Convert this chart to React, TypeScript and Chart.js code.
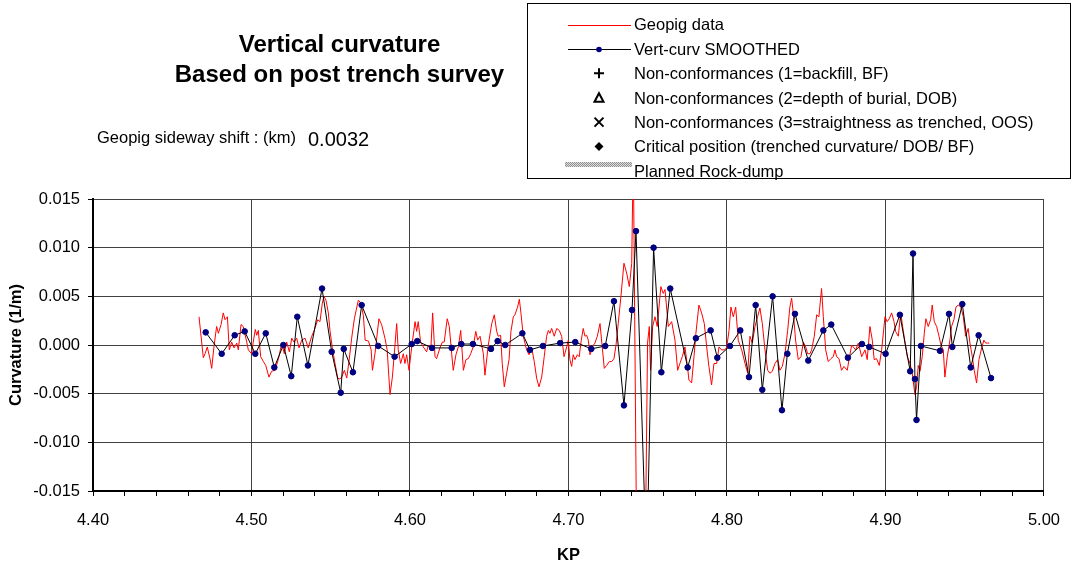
import React, { useEffect, useRef } from "react";
import { Chart, registerables } from "chart.js";

Chart.register(...registerables);

const FONT = '"Liberation Sans", Arial, Helvetica, sans-serif';

const titleLines = ["Vertical curvature", "Based on post trench survey"];
const shiftLabel = "Geopig sideway shift : (km)";
const shiftValue = "0.0032";
const xTitle = "KP";
const yTitle = "Curvature (1/m)";

const legendLabels = [
  "Geopig data",
  "Vert-curv SMOOTHED",
  "Non-conformances (1=backfill, BF)",
  "Non-conformances (2=depth of burial, DOB)",
  "Non-conformances (3=straightness as trenched, OOS)",
  "Critical position (trenched curvature/ DOB/ BF)",
  "Planned Rock-dump",
];

const xMin = 4.4;
const xMax = 5.0;
const xMinorStep = 0.02;
const yTickValues = [-0.015, -0.01, -0.005, 0, 0.005, 0.01, 0.015];

const geoKP = [
  4.4669, 4.4696, 4.4707, 4.4721, 4.4738, 4.4749, 4.4763, 4.478, 4.4791, 4.4808,
  4.4822, 4.4833, 4.4848, 4.486, 4.4875, 4.489, 4.4907, 4.4917, 4.4934, 4.4948,
  4.497, 4.498, 4.5001, 4.5011, 4.5024, 4.5033, 4.5043, 4.5058, 4.5075, 4.509,
  4.511, 4.5127, 4.5148, 4.5169, 4.5191, 4.5207, 4.5222, 4.5239, 4.5254, 4.5268,
  4.5285, 4.53, 4.5317, 4.5338, 4.5358, 4.538, 4.5396, 4.5418, 4.5432, 4.5447,
  4.5457, 4.547, 4.5485, 4.5495, 4.551, 4.5527, 4.5544, 4.5558, 4.5569, 4.5586,
  4.5601, 4.5615, 4.5632, 4.5649, 4.5674, 4.5691, 4.5706, 4.5717, 4.5738, 4.5755,
  4.5763, 4.5779, 4.5804, 4.5821, 4.5842, 4.5856, 4.5874, 4.5889, 4.5901, 4.5916,
  4.5926, 4.5941, 4.5958, 4.5968, 4.5979, 4.5994, 4.6011, 4.6032, 4.6042, 4.6052,
  4.6067, 4.6084, 4.6105, 4.6116, 4.6132, 4.6143, 4.6158, 4.6168, 4.6189, 4.6204,
  4.6216, 4.6235, 4.6248, 4.6263, 4.6273, 4.629, 4.6305, 4.632, 4.6337, 4.6353,
  4.6368, 4.6383, 4.6399, 4.6415, 4.6427, 4.6442, 4.6452, 4.6463, 4.6473, 4.6494,
  4.6516, 4.6532, 4.6547, 4.6557, 4.6572, 4.6582, 4.6595, 4.661, 4.6625, 4.6637,
  4.6652, 4.6662, 4.6679, 4.669, 4.67, 4.6715, 4.6736, 4.6751, 4.6768, 4.6784,
  4.6799, 4.6814, 4.6831, 4.6847, 4.6862, 4.6873, 4.6883, 4.6894, 4.691, 4.6926,
  4.6942, 4.6957, 4.6972, 4.6989, 4.6999, 4.7009, 4.702, 4.703, 4.7041, 4.7056,
  4.7068, 4.7079, 4.7093, 4.7104, 4.7115, 4.7125, 4.7136, 4.715, 4.7167, 4.7182,
  4.7199, 4.7213, 4.7226, 4.7241, 4.7258, 4.7273, 4.7287, 4.73, 4.7314, 4.7331,
  4.735, 4.7367, 4.7384, 4.7399, 4.7409, 4.7435, 4.7457, 4.7479, 4.7499, 4.751,
  4.7518, 4.7531, 4.7546, 4.756, 4.7583, 4.7598, 4.7609, 4.763, 4.7651, 4.7672,
  4.7689, 4.7703, 4.7718, 4.7735, 4.775, 4.776, 4.7777, 4.7792, 4.7804, 4.7823,
  4.784, 4.7857, 4.7872, 4.7886, 4.7903, 4.7918, 4.7935, 4.795, 4.7966, 4.7983,
  4.7998, 4.8013, 4.8025, 4.804, 4.8055, 4.8071, 4.8093, 4.8114, 4.8131, 4.8145,
  4.816, 4.8177, 4.8193, 4.8208, 4.8223, 4.824, 4.8257, 4.8271, 4.8286, 4.8303,
  4.832, 4.8334, 4.8349, 4.8366, 4.8383, 4.8397, 4.8408, 4.8421, 4.8433, 4.845,
  4.8467, 4.8482, 4.8497, 4.8509, 4.8524, 4.8534, 4.8551, 4.8566, 4.858, 4.8597,
  4.8608, 4.8623, 4.8639, 4.8656, 4.8671, 4.8681, 4.8692, 4.8707, 4.8723, 4.8738,
  4.8759, 4.877, 4.8787, 4.8797, 4.8812, 4.8829, 4.885, 4.8871, 4.8885, 4.8902,
  4.8917, 4.8929, 4.8944, 4.8961, 4.8976, 4.8997, 4.9011, 4.9024, 4.9039, 4.9054,
  4.9064, 4.9081, 4.9096, 4.9112, 4.9123, 4.9138, 4.9155, 4.9169, 4.9186, 4.9196,
  4.9207, 4.9218, 4.9232, 4.9245, 4.9255, 4.927, 4.9285, 4.9295, 4.9308, 4.9323,
  4.9338, 4.935, 4.9365, 4.9375, 4.939, 4.9407, 4.9417, 4.9432, 4.9445, 4.9459,
  4.9476, 4.9491, 4.9506, 4.9522, 4.9533, 4.9548, 4.956, 4.9575, 4.959, 4.9607,
  4.9621, 4.9632, 4.9645, 4.9655,
];

const geoVal = [
  0.0029, -0.0013, -0.0009, -0.0002, -0.0014, -0.0024, -0.0002, 0.0019, 0.0012, 0.0021,
  0.0033, 0.0026, 0.0029, -0.0005, 0.0003, -0.0003, 0.0002, -0.0005, 0.0021, 0.0019,
  0.0003, -0.0005, -0.0009, 0.0003, 0.0016, 0.001, 0.0015, -0.0012, -0.0017, -0.0021,
  -0.0033, -0.0027, -0.0026, -0.0015, 0.0002, -0.0009, 0.0003, -0.0007, 0.0007, 0.0003,
  0.0007, -0.0003, 0.0005, 0.0007, -0.0003, 0.0009, 0.0015, 0.0026, 0.0024, 0.0043,
  0.005, 0.0046, 0.0033, 0.0015, -0.0003, -0.0019, -0.0034, -0.0035, -0.0033, -0.0026,
  -0.0034, -0.0017, 0.0007, 0.0027, 0.0046, 0.0043, 0.003, 0.0005, 0.0004, -0.0005,
  -0.0026, -0.0009, 0.0027, 0.0021, 0.0007, -0.0005, -0.0051, -0.0033, -0.0009, 0.0022,
  -0.0005, -0.0019, -0.0009, -0.0019, -0.001, -0.0026, -0.0002, 0.0024, 0.0014, 0.0024,
  0.0003, -0.0002, -0.0007, 0.0, -0.0003, 0.0033, -0.0012, -0.0014, -0.0003, 0.0003,
  0.0003, 0.0027, 0.0019, -0.0009, -0.0026, -0.001, -0.0002, 0.0015, -0.0026, -0.0015,
  -0.0014, -0.0009, -0.0002, 0.0014, 0.0005, 0.0009, 0.0, -0.0009, -0.0031, 0.0,
  0.0022, 0.0031, 0.0014, 0.0009, 0.001, -0.0019, -0.0043, -0.0029, -0.0015, 0.0014,
  0.0029, 0.0031, 0.0039, 0.0047, 0.0033, 0.0009, -0.0005, -0.001, -0.0003, -0.0017,
  -0.0034, -0.0043, -0.0033, -0.0012, 0.0009, 0.0015, 0.0012, 0.0017, 0.0009, 0.0017,
  0.0015, 0.0009, -0.0012, -0.0002, 0.0005, -0.0015, -0.0022, -0.001, -0.0015, -0.001,
  -0.0012, 0.0003, 0.0017, 0.0009, 0.001, 0.0005, -0.001, -0.0002, 0.0002, 0.0009,
  0.0022, -0.0002, -0.0024, -0.0021, -0.0017, -0.0017, -0.0014, 0.0, 0.0022, 0.005,
  0.0084, 0.0074, 0.006, 0.0084, 0.02, -0.03, -0.018, -0.03, 0.0002, 0.0019,
  -0.0026, 0.0019, 0.0029, 0.0019, 0.006, 0.0053, 0.0057, 0.0019, 0.0024, 0.0005,
  -0.0026, -0.0019, -0.0012, -0.0002, -0.0021, -0.0036, -0.0039, -0.0012, 0.0012, 0.0041,
  0.0033, 0.0022, -0.0002, -0.0022, -0.0041, -0.0019, -0.0019, -0.0002, -0.0005, -0.0005,
  -0.0003, 0.0015, 0.0039, 0.0029, 0.0039, 0.0005, -0.0005, -0.0019, -0.0029, 0.0009,
  0.0002, 0.0019, 0.0029, 0.0038, 0.0022, -0.0005, -0.0026, -0.0029, -0.0027, -0.0019,
  -0.0015, -0.0026, -0.0022, -0.0009, 0.0015, 0.0039, 0.0048, 0.0029, 0.0005, -0.0015,
  -0.0012, 0.0003, -0.0002, -0.0009, -0.0009, -0.0005, 0.0009, 0.0031, 0.0029, 0.0058,
  0.0029, -0.0005, -0.0017, -0.0014, -0.0012, -0.0005, -0.0012, -0.0014, -0.0026, -0.0022,
  -0.0026, -0.0015, 0.0, -0.0002, -0.0005, 0.0002, -0.0012, -0.0005, -0.0015, 0.0019,
  0.0005, -0.0015, -0.0014, -0.0021, -0.0005, 0.0029, 0.0024, 0.0027, 0.0033, 0.0024,
  0.0014, 0.0009, 0.0033, 0.0015, 0.0003, -0.0012, -0.0019, -0.0029, -0.0051, -0.0043,
  -0.0021, -0.0027, -0.0012, 0.0012, 0.0027, 0.0019, 0.0026, 0.0041, 0.0024, 0.0019,
  0.0009, 0.0, -0.0005, -0.0033, -0.0012, 0.0005, 0.0019, 0.0026, 0.0039, 0.0041,
  0.0039, 0.0029, 0.0009, 0.0017, 0.0002, -0.0012, -0.0026, -0.0039, -0.0015, -0.0003,
  0.0005, 0.0002, 0.0002, 0.0002,
];

const smoothKP = [
  4.4711, 4.4812, 4.4894, 4.4957, 4.5024, 4.509, 4.5144, 4.5201, 4.5251, 4.5289,
  4.5356, 4.5445, 4.5506, 4.5563, 4.5582, 4.564, 4.5695, 4.58, 4.5903, 4.6011,
  4.6046, 4.6139, 4.6263, 4.6324, 4.6397, 4.6511, 4.6553, 4.6601, 4.6709, 4.6757,
  4.6839, 4.6948, 4.7043, 4.7144, 4.7232, 4.7287, 4.735, 4.7401, 4.7426, 4.7493,
  4.7537, 4.7586, 4.7642, 4.7752, 4.7804, 4.7897, 4.7939, 4.8019, 4.8084, 4.8139,
  4.8181, 4.8223, 4.8288, 4.8347, 4.8381, 4.8429, 4.8513, 4.8608, 4.8658, 4.8763,
  4.8852, 4.8898, 4.9001, 4.9091, 4.9156, 4.9174, 4.9186, 4.9196, 4.9224, 4.9344,
  4.9401, 4.9422, 4.9485, 4.9538, 4.9588, 4.9666,
];

const smoothVal = [
  0.0013, -0.0009, 0.001, 0.0014, -0.0009, 0.0012, -0.0023, 0.0, -0.0032, 0.0029,
  -0.0021, 0.0058, -0.0007, -0.0049, -0.0004, -0.0028, 0.0041, -0.0001, -0.0012, 0.0001,
  0.0004, -0.0003, -0.0003, 0.0001, 0.0001, -0.0004, 0.0004, 0.0, 0.0012, -0.0005,
  -0.0001, 0.0002, 0.0003, -0.0004, -0.0001, 0.0045, -0.0062, 0.0036, 0.0117, -0.0227,
  0.01, -0.0028, 0.0058, -0.0023, 0.0007, 0.0015, -0.0013, -0.0001, 0.0015, -0.0033,
  0.0041, -0.0046, 0.005, -0.0067, -0.0009, 0.0032, -0.0016, 0.0015, 0.0021, -0.0013,
  0.0001, -0.0002, -0.0009, 0.0031, -0.0027, 0.0094, -0.0035, -0.0077, -0.0001, -0.0006,
  0.0032, -0.0002, 0.0042, -0.0023, 0.001, -0.0034,
];

const legendSymbols = ["line", "lineMarker", "cross", "triangle", "crossRot", "diamond", "pattern"];
const RED = "#ff0000";
const NAVY = "#000080";

const isMajor = (v: number) => Math.abs(v * 10 - Math.round(v * 10)) < 1e-6;

const decorPlugin = {
  id: "decor",
  afterDraw(chart: any) {
    const ctx: CanvasRenderingContext2D = chart.ctx;
    ctx.save();
    ctx.fillStyle = "#000";
    ctx.textBaseline = "alphabetic";
    ctx.textAlign = "center";
    ctx.font = `bold 24px ${FONT}`;
    ctx.fillText(titleLines[0], 339.5, 51.5);
    ctx.fillText(titleLines[1], 339.5, 81.5);

    ctx.textAlign = "left";
    ctx.font = `16.5px ${FONT}`;
    ctx.fillText(shiftLabel, 97, 142.5);
    ctx.font = `20px ${FONT}`;
    ctx.fillText(shiftValue, 308, 146);

    // legend box
    ctx.strokeStyle = "#000";
    ctx.lineWidth = 1;
    ctx.strokeRect(527.5, 3.5, 543, 175);

    const datasets = chart.data.datasets;
    const sx = 599;
    datasets.forEach((d: any, i: number) => {
      const y = 24.5 + i * 24.4;
      const ry = Math.round(y);
      const sym = d.legendSymbol;
      ctx.save();
      if (sym === "line" || sym === "lineMarker") {
        ctx.fillStyle = sym === "line" ? RED : "#000";
        ctx.fillRect(568, ry, 63, 1);
        if (sym === "lineMarker") {
          ctx.fillStyle = NAVY;
          ctx.beginPath();
          ctx.arc(sx, ry + 0.5, 2.8, 0, Math.PI * 2);
          ctx.fill();
        }
      } else if (sym === "cross") {
        ctx.strokeStyle = "#000";
        ctx.lineWidth = 2;
        ctx.beginPath();
        ctx.moveTo(sx - 5, y);
        ctx.lineTo(sx + 5, y);
        ctx.moveTo(sx, y - 5);
        ctx.lineTo(sx, y + 5);
        ctx.stroke();
      } else if (sym === "triangle") {
        ctx.strokeStyle = "#000";
        ctx.lineWidth = 2;
        ctx.beginPath();
        ctx.moveTo(sx, y - 4.5);
        ctx.lineTo(sx + 4.5, y + 4);
        ctx.lineTo(sx - 4.5, y + 4);
        ctx.closePath();
        ctx.stroke();
      } else if (sym === "crossRot") {
        ctx.strokeStyle = "#000";
        ctx.lineWidth = 2;
        ctx.beginPath();
        ctx.moveTo(sx - 4.5, y - 4.5);
        ctx.lineTo(sx + 4.5, y + 4.5);
        ctx.moveTo(sx + 4.5, y - 4.5);
        ctx.lineTo(sx - 4.5, y + 4.5);
        ctx.stroke();
      } else if (sym === "diamond") {
        ctx.fillStyle = "#000";
        ctx.beginPath();
        ctx.moveTo(sx, y - 4.5);
        ctx.lineTo(sx + 4.5, y);
        ctx.lineTo(sx, y + 4.5);
        ctx.lineTo(sx - 4.5, y);
        ctx.closePath();
        ctx.fill();
      } else if (sym === "pattern") {
        const pc = document.createElement("canvas");
        pc.width = 2;
        pc.height = 2;
        const p = pc.getContext("2d")!;
        p.fillStyle = "#e0e0e0";
        p.fillRect(0, 0, 2, 2);
        p.fillStyle = "#8c8c8c";
        p.fillRect(0, 0, 1, 1);
        p.fillRect(1, 1, 1, 1);
        const pat = ctx.createPattern(pc, "repeat");
        if (pat) ctx.fillStyle = pat;
        ctx.fillRect(565, ry - 9, 67, 5);
      }
      ctx.restore();
      ctx.fillStyle = "#000";
      ctx.font = `16.5px ${FONT}`;
      ctx.textAlign = "left";
      ctx.textBaseline = "alphabetic";
      ctx.fillText(d.label, 634, y + 5.8);
    });
    ctx.restore();
  },
};

export default function App() {
  const canvasRef = useRef<HTMLCanvasElement | null>(null);

  useEffect(() => {
    const canvas = canvasRef.current;
    if (!canvas) return;
    const geoData = geoKP.map((x, i) => ({ x, y: geoVal[i] }));
    const smoothData = smoothKP.map((x, i) => ({ x, y: smoothVal[i] }));

    const chart = new Chart(canvas, {
      type: "line",
      data: {
        datasets: [
          {
            label: legendLabels[0],
            legendSymbol: legendSymbols[0],
            data: geoData,
            borderColor: RED,
            backgroundColor: RED,
            borderWidth: 1,
            pointRadius: 0,
            tension: 0,
            order: 2,
          } as any,
          {
            label: legendLabels[1],
            legendSymbol: legendSymbols[1],
            data: smoothData,
            borderColor: "#000000",
            backgroundColor: NAVY,
            borderWidth: 1,
            pointRadius: 2.8,
            pointBackgroundColor: NAVY,
            pointBorderColor: NAVY,
            pointBorderWidth: 1,
            tension: 0,
            order: 1,
          } as any,
          ...(legendLabels.slice(2).map((label, k) => ({
            label,
            legendSymbol: legendSymbols[k + 2],
            data: [],
            borderColor: "#000",
            showLine: false,
            order: 3,
          })) as any),
        ],
      },
      options: {
        responsive: false,
        animation: false,
        devicePixelRatio: 1,
        events: [],
        layout: { padding: { top: 199, left: 0, right: 31, bottom: 0 } },
        plugins: {
          legend: { display: false },
          tooltip: { enabled: false },
          title: { display: false },
        },
        scales: {
          x: {
            type: "linear",
            min: xMin,
            max: xMax,
            ticks: {
              stepSize: xMinorStep,
              autoSkip: false,
              maxRotation: 0,
              color: "#000",
              padding: 15,
              font: { family: FONT, size: 16.5 },
              callback: (v: any) => (isMajor(Number(v)) ? Number(v).toFixed(2) : ""),
            },
            grid: {
              color: (c: any) => (c.tick && isMajor(c.tick.value) ? "#404040" : "rgba(0,0,0,0)"),
              tickColor: "#000",
              tickLength: 5,
              lineWidth: 1,
            },
            border: { color: "#000", width: 2 },
            title: {
              display: true,
              text: xTitle,
              color: "#000",
              font: { family: FONT, size: 16.5, weight: "bold" },
              padding: { top: 0, bottom: 0 },
            },
            afterFit: (s: any) => {
              s.height = 74;
            },
          },
          y: {
            type: "linear",
            min: -0.015,
            max: 0.015,
            afterBuildTicks: (s: any) => {
              s.ticks = yTickValues.map((value) => ({ value }));
            },
            ticks: {
              color: "#000",
              padding: 8,
              font: { family: FONT, size: 16.5 },
              callback: (v: any) => {
                const n = Number(v);
                return (Math.abs(n) < 1e-9 ? 0 : n).toFixed(3);
              },
            },
            grid: {
              color: "#404040",
              tickColor: "#000",
              tickLength: 5,
              lineWidth: 1,
            },
            border: { color: "#000", width: 2 },
            title: {
              display: true,
              text: yTitle,
              color: "#000",
              font: { family: FONT, size: 16.5, weight: "bold" },
              padding: { top: 7, bottom: 0 },
            },
            afterFit: (s: any) => {
              s.width = 93;
            },
          },
        },
      } as any,
      plugins: [decorPlugin],
    });
    return () => chart.destroy();
  }, []);

  return (
    <div style={{ position: "absolute", left: 0, top: 0, width: 1075, height: 565, background: "#fff" }}>
      <canvas ref={canvasRef} width={1075} height={565} style={{ display: "block" }} />
    </div>
  );
}
